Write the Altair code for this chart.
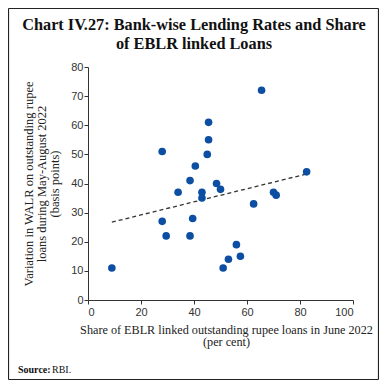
import altair as alt
import pandas as pd

share_eblr = [9, 28, 28, 29.5, 34, 38.5, 38.5, 39.5, 40.5, 43, 43, 45, 45.5, 45.5,
              48.5, 50, 51, 53, 56, 57.5, 62.5, 65.5, 70, 71, 82.5]
walr_change = [11, 51, 27, 22, 37, 41, 22, 28, 46, 37, 35, 50, 55, 61,
               40, 38, 11, 14, 19, 15, 33, 72, 37, 36, 44]

title_lines = ["Chart IV.27: Bank-wise Lending Rates and Share", "of EBLR linked Loans"]
x_title = ["Share of EBLR linked outstanding rupee loans in June 2022", "(per cent)"]
y_title = ["Variation in WALR on outstanding rupee", "loans during May-August 2022", "(basis points)"]
x_ticks = [0, 20, 40, 60, 80, 100]
y_ticks = [0, 10, 20, 30, 40, 50, 60, 70, 80]

df = pd.DataFrame({"x": share_eblr, "y": walr_change})

W, H = 265, 233
SERIF = "Liberation Serif"
SANS = "Liberation Sans"

xs = alt.Scale(domain=[0, 100], nice=False)
ys = alt.Scale(domain=[0, 80], nice=False)

x_enc = alt.X("x:Q", scale=xs, axis=alt.Axis(
    values=x_ticks, title=x_title, titleX=138, titleFontWeight="normal",
    titleFont=SERIF, titleFontSize=12.2, titleLineHeight=12.5, titleColor="#222",
    titlePadding=6, labelFont=SANS, labelFontSize=11, labelColor="#333",
    tickSize=4, tickColor="#333", domainColor="#333", grid=False, labelPadding=2))
y_enc = alt.Y("y:Q", scale=ys, axis=alt.Axis(
    values=y_ticks, title=y_title, titleFontWeight="normal",
    titleFont=SERIF, titleFontSize=12.5, titleLineHeight=13, titleColor="#222",
    titlePadding=9, labelFont=SANS, labelFontSize=11, labelColor="#333",
    tickSize=4, tickColor="#333", domainColor="#333", grid=False, labelPadding=1))

base = alt.Chart(df).encode(x=x_enc, y=y_enc)

points = base.mark_circle(size=58, color="#0b4ea2", opacity=1)

trend = base.transform_regression("x", "y").mark_line(
    color="#333", strokeDash=[4, 3], strokeWidth=1.3
)

one = pd.DataFrame({"a": [0]})
L, R, T, B = -79.5, 290.5, -58.5, 312.5
edges = [
    dict(x=alt.value(L), x2=alt.value(R), y=alt.value(T)),
    dict(x=alt.value(L), x2=alt.value(R), y=alt.value(B)),
    dict(x=alt.value(L), y=alt.value(T), y2=alt.value(B)),
    dict(x=alt.value(R), y=alt.value(T), y2=alt.value(B)),
]
border = [alt.Chart(one).mark_rule(color="#222", strokeWidth=1.2).encode(**e) for e in edges]

def text_layer(txt, x, y, size, weight="normal", align="left"):
    return alt.Chart(pd.DataFrame({"t": [txt]})).mark_text(
        font=SERIF, fontSize=size, fontWeight=weight, align=align,
        baseline="alphabetic", color="#111"
    ).encode(x=alt.value(x), y=alt.value(y), text="t:N")

title1 = text_layer(title_lines[0], 106, -37, 16.3, "bold", "center")
title2 = text_layer(title_lines[1], 106, -18, 16.3, "bold", "center")
src1 = text_layer("Source:", -70, 306, 10, "bold")
src2 = text_layer("RBI.", -36, 306, 10)

chart = alt.layer(*border, trend, points, title1, title2, src1, src2).properties(
    width=W, height=H,
    autosize=alt.AutoSizeParams(type="none"),
    padding={"left": 80, "top": 59, "right": 26, "bottom": 80},
).configure_view(strokeWidth=0)

chart.save("out.html", embed_options={"renderer": "svg", "actions": False})
